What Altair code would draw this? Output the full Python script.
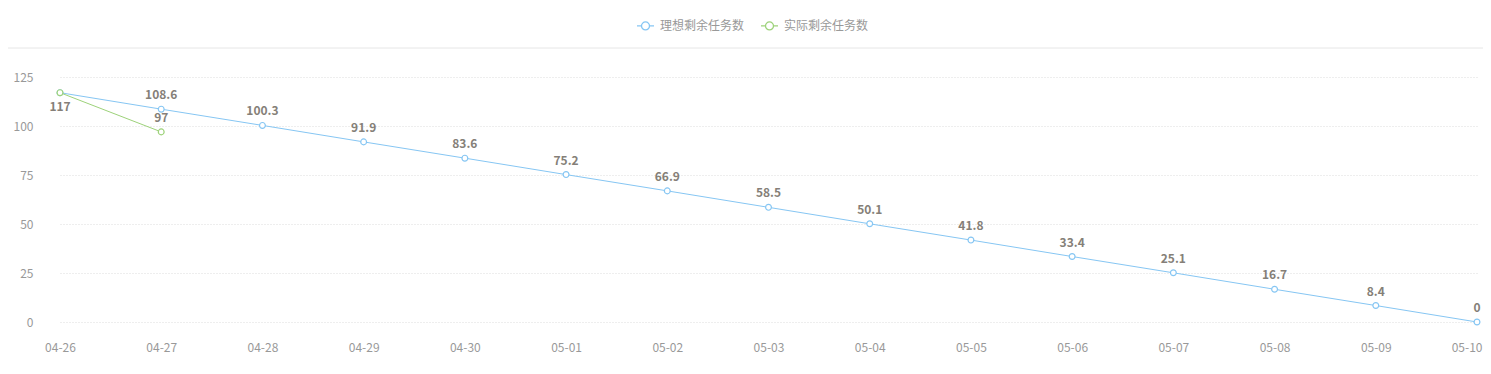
import altair as alt
import pandas as pd

dates = ["04-26", "04-27", "04-28", "04-29", "04-30", "05-01", "05-02", "05-03",
         "05-04", "05-05", "05-06", "05-07", "05-08", "05-09", "05-10"]
ideal = [117, 108.6, 100.3, 91.9, 83.6, 75.2, 66.9, 58.5, 50.1, 41.8, 33.4, 25.1, 16.7, 8.4, 0]
actual = [117, 97]
series_names = ["理想剩余任务数", "实际剩余任务数"]
colors = ["#86c6f3", "#9dd27a"]

rows = []
for i, v in enumerate(ideal):
    rows.append({"date": dates[i], "value": v, "series": series_names[0], "idx": i, "order": i})
for i, v in enumerate(actual):
    rows.append({"date": dates[i], "value": v, "series": series_names[1], "idx": i, "order": 100 + i})
df = pd.DataFrame(rows)

FONT = "Noto Sans CJK SC"
last_date = dates[-1]

x_enc = alt.X("date:O", sort=dates, scale=alt.Scale(type="point", range=[15, 1432], padding=0),
              axis=alt.Axis(title=None, labelAngle=0, labelColor="#999999", labelFontSize=12,
                            labelFont=FONT, labelPadding=20, ticks=False, tickSize=0,
                            domain=False, grid=False,
                            labelAlign=alt.ExprRef(f"datum.value == '{last_date}' ? 'right' : 'center'"),
                            labelOffset=alt.ExprRef(f"datum.value == '{last_date}' ? 5 : 0")))
y_enc = alt.Y("value:Q", scale=alt.Scale(domain=[0, 125], nice=False),
              axis=alt.Axis(title=None, values=[0, 25, 50, 75, 100, 125], labelColor="#999999",
                            labelFontSize=12, labelFont=FONT, labelPadding=12, ticks=False,
                            tickSize=0, domain=False, grid=True, gridColor="#dddddd",
                            gridDash=[1, 2], gridWidth=1))

color_scale = alt.Scale(domain=series_names, range=colors)

legend_path = ("M-1,0L-0.47,0M0.47,0L1,0M0.47,0A0.47,0.47,0,1,1,-0.47,0"
               "A0.47,0.47,0,1,1,0.47,0Z")
legend = alt.Legend(title=None, orient="none", direction="horizontal",
                    legendX=591, legendY=-61, symbolType=legend_path,
                    symbolSize=289, symbolStrokeWidth=1.3, symbolFillColor="white",
                    labelFont=FONT, labelFontSize=12, labelColor="#999999",
                    labelOffset=5, columnPadding=13, padding=0)

base = alt.Chart(df)

lines = base.mark_line(strokeWidth=1).encode(
    x=x_enc, y=y_enc,
    color=alt.Color("series:N", scale=color_scale, legend=legend),
    detail="series:N",
)

points = base.mark_point(filled=False, fill="white", size=34, strokeWidth=1.2, opacity=1).encode(
    x=x_enc, y=y_enc,
    color=alt.Color("series:N", scale=color_scale, legend=legend),
    order="order:Q",
)

label_style = dict(fontSize=12, fontWeight="bold", font=FONT, color="#857f78", baseline="middle")

ideal_labels = base.transform_filter(
    (alt.datum.series == series_names[0]) & (alt.datum.idx > 0)
).mark_text(dy=-14, **label_style).encode(x=x_enc, y=y_enc, text=alt.Text("value:Q", format=".1~f"))

first_label = base.transform_filter(
    (alt.datum.series == series_names[0]) & (alt.datum.idx == 0)
).mark_text(dy=14, **label_style).encode(x=x_enc, y=y_enc, text=alt.Text("value:Q", format=".1~f"))

actual_labels = base.transform_filter(
    (alt.datum.series == series_names[1]) & (alt.datum.idx > 0)
).mark_text(dy=-14, **label_style).encode(x=x_enc, y=y_enc, text=alt.Text("value:Q", format=".1~f"))

separator = alt.Chart(pd.DataFrame({"a": [0]})).mark_rule(color="#e6e6e6", strokeWidth=1).encode(
    x=alt.value(-37), x2=alt.value(1438), y=alt.value(-29)
)

chart = alt.layer(separator, lines, points, ideal_labels, first_label, actual_labels).properties(
    width=1438, height=245,
    padding={"left": 37, "top": 69, "right": 0, "bottom": 36},
    autosize=alt.AutoSizeParams(type="none"),
    background="white",
).configure_view(stroke=None)

chart.save("out.html", embed_options={"renderer": "svg", "actions": False})
